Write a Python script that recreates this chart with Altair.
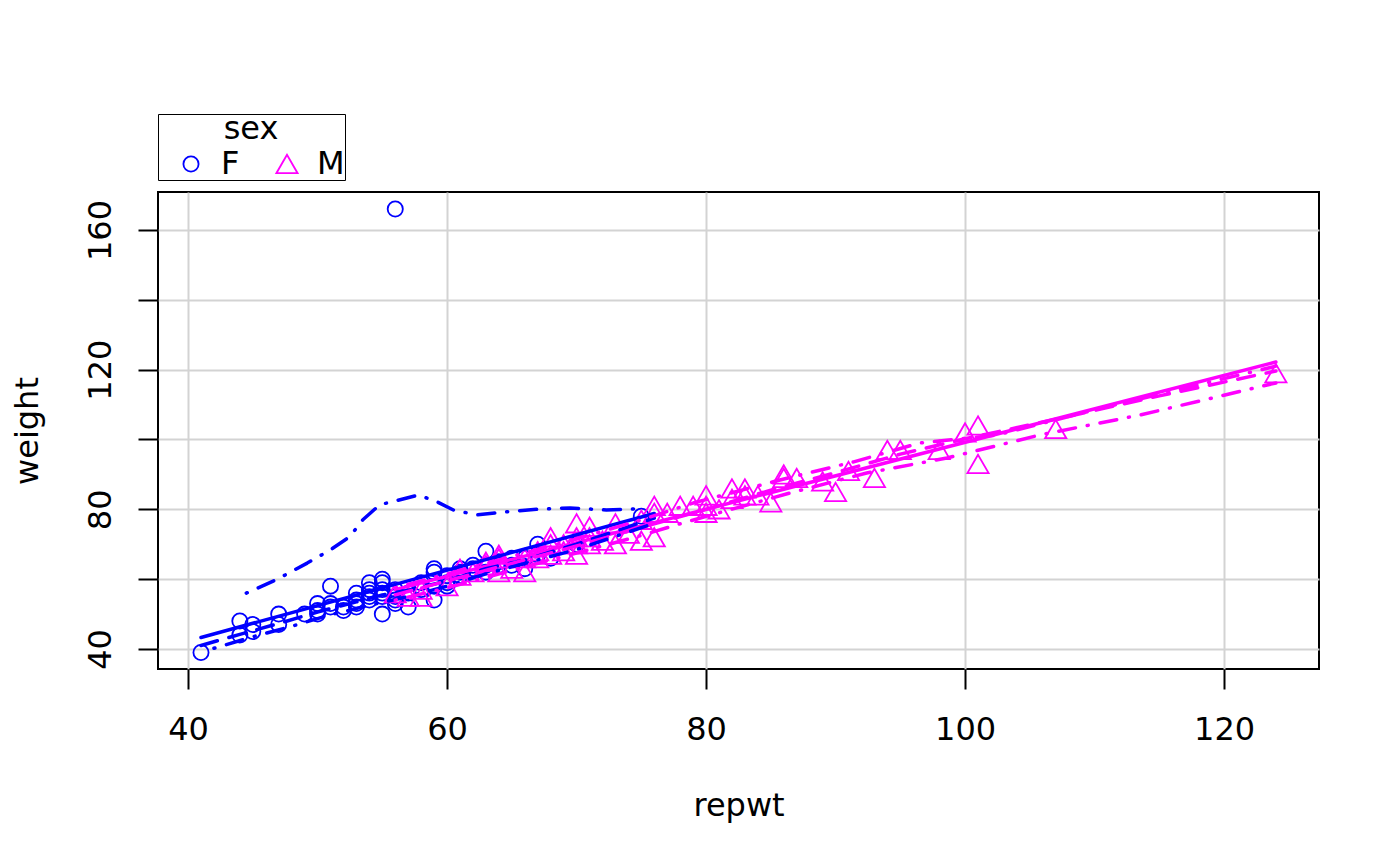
import altair as alt
import pandas as pd

# ---- data ----
f_repwt = [41, 44, 44, 45, 45, 47, 47, 49, 50, 50, 50, 51, 51, 51, 52, 52, 53, 53, 53, 53,
           54, 54, 54, 54, 54, 55, 55, 55, 55, 55, 55, 56, 56, 56, 56, 56, 57, 57, 58, 58,
           59, 59, 59, 59, 60, 60, 60, 61, 61, 61, 62, 62, 63, 63, 63, 64, 64, 65, 65, 66,
           66, 67, 67, 68, 70, 75]
f_weight = [39, 48, 44, 47, 45, 50, 47, 50, 53, 51, 50, 58, 53, 52, 52, 51, 56, 54, 53, 52,
            59, 57, 56, 55, 54, 60, 59, 57, 56, 55, 50, 166, 57, 55, 54, 53, 56, 52, 59, 57,
            63, 62, 58, 54, 61, 59, 58, 63, 62, 61, 64, 63, 68, 62, 64, 65, 64, 66, 64, 63,
            66, 70, 67, 66, 70, 78]

m_repwt = [56, 57, 58, 58, 60, 61, 61, 62, 63, 63, 64, 64, 64, 65, 66, 66, 67, 67, 68, 68,
           68, 69, 69, 70, 70, 70, 70, 71, 71, 71, 72, 73, 73, 74, 75, 75, 76, 76, 76, 77,
           78, 79, 80, 80, 80, 81, 82, 82, 83, 83, 84, 85, 86, 86, 87, 89, 90, 91, 93, 94,
           95, 98, 100, 101, 101, 107, 124]
m_weight = [56, 55, 55, 57, 58, 61, 63, 62, 64, 65, 67, 66, 62, 63, 62, 66, 68, 66, 72, 70,
            67, 70, 68, 76, 72, 70, 67, 75, 72, 70, 71, 76, 70, 73, 77, 71, 81, 79, 72, 79,
            81, 81, 84, 81, 79, 80, 86, 83, 86, 84, 84, 82, 90, 89, 89, 88, 85, 91, 89, 97,
            97, 97, 102, 104, 93, 103, 119]

# fitted lines
f_lm_x = [41, 76]
f_lm_y = [43.3, 78.8]
m_lm_x = [56, 124]
m_lm_y = [57.0, 122.2]

f_smooth_x = [41, 44, 47, 50, 53, 55, 57, 60, 63, 66, 70, 76]
f_smooth_y = [41.0, 44.2, 47.3, 50.6, 53.5, 55.5, 56.8, 59.5, 63.0, 65.5, 70.0, 77.5]
m_smooth_x = [56, 60, 65, 70, 75, 80, 85, 90, 95, 100, 107, 115, 124]
m_smooth_y = [55.5, 59.5, 64.5, 69.5, 74.8, 80.0, 85.5, 90.5, 95.8, 100.2, 105.8, 112.5, 119.6]

f_upper_x = [44.5, 46.8, 49.2, 51.0, 52.5, 53.5, 54.8, 56.1, 57.8, 59.2, 60.5, 62.3, 64.6,
             66.9, 69.5, 72.3, 74.6]
f_upper_y = [56.0, 59.8, 64.6, 68.4, 72.2, 77.0, 81.3, 82.5, 84.1, 82.2, 79.8, 78.4, 79.3,
             80.0, 80.4, 79.8, 80.1]
f_lower_x = [42, 45, 48, 51, 54, 57, 60, 63, 66, 70, 76]
f_lower_y = [40.2, 43.5, 46.5, 49.8, 52.5, 55.0, 58.0, 61.5, 64.5, 68.5, 76.0]
m_upper_x = [56, 60, 65, 70, 75, 79, 85.7, 91.4, 96.5, 102.5, 110, 124]
m_upper_y = [57.5, 61.5, 66.5, 71.5, 77.0, 81.8, 88.4, 93.6, 99.0, 101.3, 108.5, 121.0]
m_lower_x = [56, 60, 65, 70, 75, 78.2, 86.5, 92.4, 98.6, 105.8, 113.5, 124]
m_lower_y = [54.0, 57.5, 62.5, 67.5, 72.5, 76.1, 84.7, 90.4, 94.7, 101.3, 107.0, 116.2]

x_ticks = [40, 60, 80, 100, 120]
y_ticks = [40, 60, 80, 100, 120, 140, 160]

# ---- tables ----
pts = pd.concat([
    pd.DataFrame({"repwt": f_repwt, "weight": f_weight, "sex": "F"}),
    pd.DataFrame({"repwt": m_repwt, "weight": m_weight, "sex": "M"}),
], ignore_index=True)

def seg(xs, ys, sex, part):
    return pd.DataFrame({"repwt": xs, "weight": ys, "sex": sex, "part": part})

lm_df = pd.concat([seg(f_lm_x, f_lm_y, "F", "F"), seg(m_lm_x, m_lm_y, "M", "M")], ignore_index=True)
sm_df = pd.concat([seg(f_smooth_x, f_smooth_y, "F", "F"), seg(m_smooth_x, m_smooth_y, "M", "M")],
                  ignore_index=True)
sp_df = pd.concat([
    seg(f_upper_x, f_upper_y, "F", "Fu"), seg(f_lower_x, f_lower_y, "F", "Fl"),
    seg(m_upper_x, m_upper_y, "M", "Mu"), seg(m_lower_x, m_lower_y, "M", "Ml"),
], ignore_index=True)

FONT = "DejaVu Sans"
FS = 32
W, H = 1161, 477

xscale = alt.Scale(domain=[37.68, 127.33], nice=False, zero=False)
yscale = alt.Scale(domain=[34.27, 170.88], nice=False, zero=False)
cscale = alt.Scale(domain=["F", "M"], range=["#0000FF", "#FF00FF"])
shscale = alt.Scale(domain=["F", "M"], range=["circle", "triangle-up"])
szscale = alt.Scale(domain=["F", "M"], range=[230, 450])

xaxis = alt.Axis(values=x_ticks, title="repwt", grid=True, gridColor="#D3D3D3", gridWidth=2,
                 domain=False, tickSize=20, tickWidth=2, tickColor="black",
                 labelFontSize=FS, labelFont=FONT, labelColor="black", labelPadding=40,
                 labelBaseline="middle", labelAlign="center", labelOverlap=False, labelFlush=False,
                 titleFontSize=FS, titleFont=FONT, titleFontWeight="normal", titleColor="black",
                 titleX=W / 2, titleY=136, titleBaseline="middle", titleAlign="center")
yaxis = alt.Axis(values=y_ticks, title="weight", grid=True, gridColor="#D3D3D3", gridWidth=2,
                 domain=False, tickSize=20, tickWidth=2, tickColor="black",
                 labelExpr="datum.value % 40 == 0 ? datum.label : ''",
                 labelFontSize=FS, labelFont=FONT, labelColor="black", labelPadding=38,
                 labelAngle=270, labelBaseline="middle", labelAlign="center",
                 labelOverlap=False, labelFlush=False,
                 titleFontSize=FS, titleFont=FONT, titleFontWeight="normal", titleColor="black",
                 titleX=-131, titleY=H / 2, titleAngle=270, titleBaseline="middle",
                 titleAlign="center")

legend = alt.Legend(title="sex", orient="none", legendX=0, legendY=-78, direction="horizontal",
                    strokeColor="black", fillColor="white", padding=0, cornerRadius=0,
                    titleAnchor="middle", titleFontSize=FS, titleFont=FONT,
                    titleFontWeight="normal", titleColor="black", titlePadding=2,
                    labelFontSize=FS, labelFont=FONT, labelColor="black",
                    symbolStrokeWidth=1.8, symbolOffset=17,
                    labelOffset=14, columnPadding=14)

points = alt.Chart(pts).mark_point(filled=False, strokeWidth=1.8, opacity=1).encode(
    x=alt.X("repwt:Q", scale=xscale, axis=xaxis),
    y=alt.Y("weight:Q", scale=yscale, axis=yaxis),
    color=alt.Color("sex:N", scale=cscale, legend=legend),
    shape=alt.Shape("sex:N", scale=shscale, legend=legend),
    size=alt.Size("sex:N", scale=szscale, legend=legend),
)

def line_layer(df, dash=None):
    kw = dict(strokeWidth=3.5, strokeCap="round", strokeJoin="round")
    if dash is not None:
        kw["strokeDash"] = dash
    return alt.Chart(df).mark_line(**kw).encode(
        x=alt.X("repwt:Q", scale=xscale),
        y=alt.Y("weight:Q", scale=yscale),
        color=alt.Color("sex:N", scale=cscale, legend=None),
        detail="part:N",
        order="repwt:Q",
    )

lm = line_layer(lm_df)
sm = line_layer(sm_df, [17, 12])
sp = line_layer(sp_df, [1, 12, 17, 12])

chart = alt.layer(points, lm, sm, sp).properties(
    width=W, height=H,
    autosize=alt.AutoSizeParams(type="none"),
    padding={"left": 150, "top": 184, "right": 60, "bottom": 180},
).configure(font=FONT).configure_view(stroke="black", strokeWidth=2)

chart.save("out.html", embed_options={"renderer": "svg", "actions": False})
